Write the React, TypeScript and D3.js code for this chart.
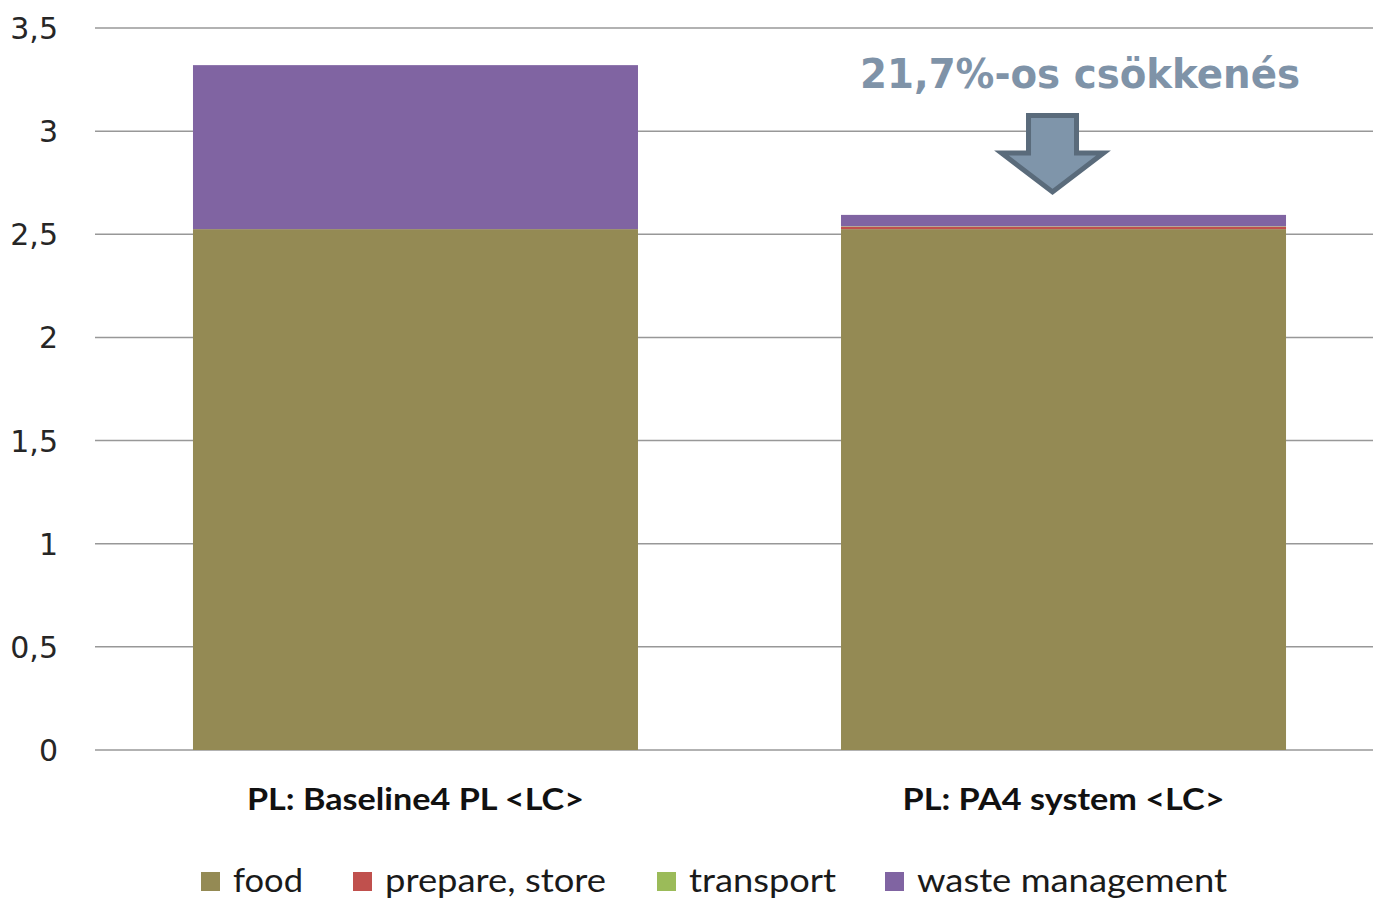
import React from "react";
import * as d3 from "d3";

const categories = ["PL: Baseline4 PL <LC>", "PL: PA4 system <LC>"];
const seriesNames = ["food", "prepare, store", "transport", "waste management"];
const food = [2.525, 2.525];
const prepareStore = [0.0, 0.012];
const transport = [0.0, 0.002];
const wasteManagement = [0.795, 0.055];
const seriesColors = ["#948A54", "#C0504D", "#9BBB59", "#8064A2"];
const yTicks = [0, 0.5, 1, 1.5, 2, 2.5, 3, 3.5];
const annotation = "21,7%-os csökkenés";

const W = 1373;
const H = 900;

export default function App() {
  const y = d3.scaleLinear().domain([0, 3.5]).range([750, 28]);
  const x = d3
    .scaleBand<string>()
    .domain(categories)
    .range([95, 1384])
    .paddingInner(0.3133)
    .paddingOuter(0.1512);

  const rows = categories.map((c, i) => ({
    cat: c,
    "food": food[i],
    "prepare, store": prepareStore[i],
    "transport": transport[i],
    "waste management": wasteManagement[i],
  }));
  const stacked = d3.stack<any>().keys(seriesNames)(rows);
  const fmt = (v: number) => String(v).replace(".", ",");

  // arrow positioned over second bar
  const c2 = categories[1];
  const cx = (x(c2) as number) + x.bandwidth() / 2 - 11;
  const top2 = y(food[1] + prepareStore[1] + transport[1] + wasteManagement[1]);
  const tipY = top2 - 23;
  const arrowPts = [
    [cx - 24, 115.5],
    [cx + 24, 115.5],
    [cx + 24, 153],
    [cx + 51, 153],
    [cx, tipY],
    [cx - 51, 153],
    [cx - 24, 153],
  ];

  const legendX = [201, 353, 657, 885];
  const legendW = [70, 221, 147, 310];
  const labelW = [337, 322];

  return (
    <div style={{ position: "absolute", left: 0, top: 0 }}>
      <svg width={W} height={H} style={{ display: "block", background: "#fff" }}>
        {yTicks.map((t) => (
          <g key={t}>
            <line x1={95} x2={W} y1={y(t)} y2={y(t)} stroke="#989898" strokeWidth={1.5} />
            <text
              x={58}
              y={y(t) + 11}
              textAnchor="end"
              fontFamily="DejaVu Sans"
              fontSize={30}
              fill="#262626"
            >
              {fmt(t)}
            </text>
          </g>
        ))}
        {stacked.map((s, si) => (
          <g key={s.key} fill={seriesColors[si]}>
            {s.map((d, i) =>
              d[1] - d[0] > 0 ? (
                <rect
                  key={i}
                  x={x(categories[i])}
                  width={x.bandwidth()}
                  y={y(d[1])}
                  height={y(d[0]) - y(d[1])}
                />
              ) : null
            )}
          </g>
        ))}
        {categories.map((c, i) => (
          <text
            key={c}
            x={(x(c) as number) + x.bandwidth() / 2}
            y={810}
            textAnchor="middle"
            fontFamily="Lato"
            fontWeight="bold"
            fontSize={30}
            fill="#111"
            textLength={labelW[i]}
            lengthAdjust="spacingAndGlyphs"
          >
            {c}
          </text>
        ))}
        <polygon
          points={arrowPts.map((p) => p.join(",")).join(" ")}
          fill="#7F95AA"
          stroke="#5A6B7B"
          strokeWidth={5}
          strokeLinejoin="miter"
        />
        <text
          x={1080}
          y={88}
          textAnchor="middle"
          fontFamily="DejaVu Sans"
          fontWeight="bold"
          fontSize={40}
          fill="#7F93A8"
          textLength={440}
          lengthAdjust="spacingAndGlyphs"
        >
          {annotation}
        </text>
        {seriesNames.map((n, i) => (
          <g key={n}>
            <rect x={legendX[i]} y={872} width={19} height={19} fill={seriesColors[i]} />
            <text
              x={legendX[i] + 32}
              y={892}
              fontFamily="Lato"
              fontSize={32}
              fill="#1a1a1a"
              textLength={legendW[i]}
              lengthAdjust="spacingAndGlyphs"
            >
              {n}
            </text>
          </g>
        ))}
      </svg>
    </div>
  );
}
